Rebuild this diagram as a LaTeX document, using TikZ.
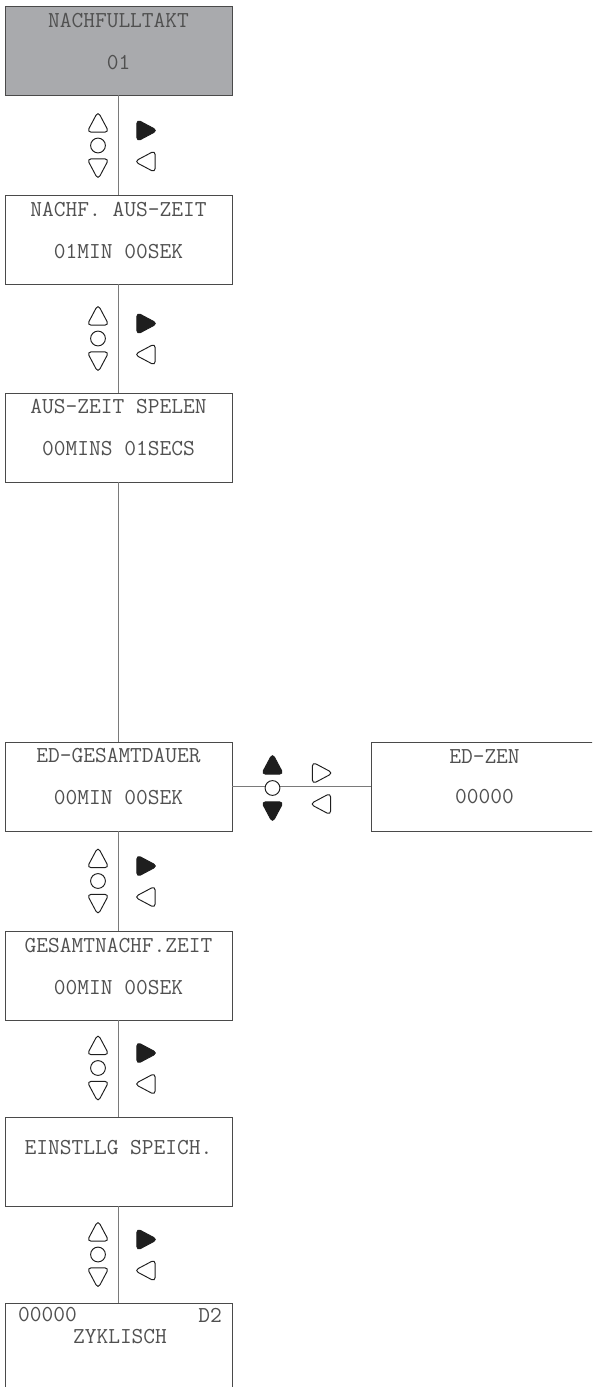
\documentclass[tikz,border=0pt]{standalone}
\usepackage{fontspec}
\usetikzlibrary{calc}

\definecolor{frame}{HTML}{4A4A4A}
\definecolor{wire}{HTML}{7A7A7A}
\definecolor{ink}{HTML}{505050}
\definecolor{shade}{HTML}{A9AAAD}
\definecolor{keyink}{HTML}{1E1E1E}

\tikzset{
  screen/.style={draw=frame, line width=0.9pt, minimum width=227pt,
                 minimum height=89pt, inner sep=0pt},
  lcd/.style={text=ink, inner sep=0pt,
              font=\fontsize{22.8}{24}\selectfont\ttfamily},
  wireline/.style={draw=wire, line width=1pt},
  keytri/.pic={\path[pic actions, rounded corners=4.2pt]
      (-11,9.2) -- (0,-11.5) -- (11,9.2) -- cycle;},
  keyline/.style={draw=keyink, line width=0.95pt, fill=white},
  keyfill/.style={draw=keyink, line width=0.95pt, fill=keyink},
}

% vertical keypad hint between two screens, #1 = y of the middle key
\newcommand{\navkeys}[1]{%
  \pic[keyline] at (98,{#1-22.5}) {keytri};
  \draw[keyline] (98,#1) circle[radius=7.4];
  \pic[keyline, rotate=180] at (98,{#1+22.5}) {keytri};
  \pic[keyfill, rotate=-90] at (146,{#1-15}) {keytri};
  \pic[keyline, rotate=90] at (146,{#1+16}) {keytri};
}

\begin{document}
\begin{tikzpicture}[x=1pt, y=-1pt]
  \clip (0,0) rectangle (592,1387);

  % screens
  \node[screen, fill=shade] (b1) at (118.5,50.5)   {};
  \node[screen]             (b2) at (118.5,239.5)  {};
  \node[screen]             (b3) at (118.5,437.5)  {};
  \node[screen]             (b4) at (118.5,786.5)  {};
  \node[screen]             (ez) at (484.5,786.5)  {};
  \node[screen]             (b5) at (118.5,975.5)  {};
  \node[screen]             (b6) at (118.5,1161.5) {};
  \node[screen, minimum height=110pt] (b7) at (118.5,1358) {};

  % screen texts
  \node[lcd] (t1a) at (118.5,21)  {NACHFULLTAKT};
  \node[lcd] (t1b) at (118.5,63)  {01};
  \node[lcd] (t2a) at (118.5,210) {NACHF. AUS-ZEIT};
  \node[lcd] (t2b) at (118.5,252) {01MIN 00SEK};
  \node[lcd] (t3a) at (118.5,407) {AUS-ZEIT SPELEN};
  \node[lcd] (t3b) at (118.5,449) {00MINS 01SECS};
  \node[lcd] (t4a) at (118.5,756) {ED-GESAMTDAUER};
  \node[lcd] (t4b) at (118.5,798) {00MIN 00SEK};
  \node[lcd] (tza) at (484.5,757) {ED-ZEN};
  \node[lcd] (tzb) at (484.5,797) {00000};
  \node[lcd] (t5a) at (118.5,945) {GESAMTNACHF.ZEIT};
  \node[lcd] (t5b) at (118.5,988) {00MIN 00SEK};
  \node[lcd] (t6a) at (118.5,1148) {EINSTLLG SPEICH.};
  \node[lcd, anchor=west] (t7a) at (18,1315)  {00000};
  \node[lcd, anchor=east] (t7b) at (222,1315) {D2};
  \node[lcd] (t7c) at (120,1337) {ZYKLISCH};

  % connectors
  \draw[wireline] (b1) -- (b2);
  \draw[wireline] (b2) -- (b3);
  \draw[wireline] (b3) -- (b4);
  \draw[wireline] (b4) -- (b5);
  \draw[wireline] (b5) -- (b6);
  \draw[wireline] (b6) -- (b7);
  \draw[wireline] (b4) -- (ez);

  % key hints
  \navkeys{145.5}
  \navkeys{338.5}
  \navkeys{881}
  \navkeys{1068}
  \navkeys{1254.5}

  % horizontal key hint between ED-GESAMTDAUER and ED-ZEN
  \pic[keyfill] at (272.5,765) {keytri};
  \draw[keyline] (272.5,788) circle[radius=7.4];
  \pic[keyfill, rotate=180] at (272.5,811) {keytri};
  \pic[keyline, rotate=-90] at (321.5,773) {keytri};
  \pic[keyline, rotate=90] at (321.5,804) {keytri};
\end{tikzpicture}
\end{document}
